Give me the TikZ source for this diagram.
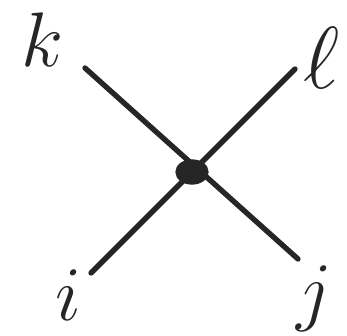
\documentclass[tikz,border=0pt]{standalone}
\usepackage{fix-cm}
\usetikzlibrary{shapes.geometric}
\begin{document}
\begin{tikzpicture}[x=0.75pt,y=-0.75pt,
  stroke/.style={line width=4pt,line cap=round,black!85},
  lbl/.style={font=\fontsize{58}{58}\selectfont,inner sep=0pt,black!85},
  vertex/.style={ellipse,fill=black!85,minimum width=25pt,minimum height=19pt,inner sep=0pt}]
\useasboundingbox (0,0) rectangle (347,336);
\coordinate (kend) at (85,68);
\coordinate (jend) at (298,259);
\coordinate (iend) at (91,273);
\coordinate (lend) at (295,69);
\draw[stroke] (kend) -- (jend);
\draw[stroke] (iend) -- (lend);
\node[vertex] (c) at (192,172) {};
\node[lbl] (k) at (42,40) {$k$};
\node[lbl,font=\fontsize{66}{66}\selectfont] (l) at (322,58) {$\ell$};
\node[lbl,anchor=base] (i) at (68,320) {$i$};
\node[lbl,anchor=base] (j) at (314,316) {$j$};
\end{tikzpicture}
\end{document}
